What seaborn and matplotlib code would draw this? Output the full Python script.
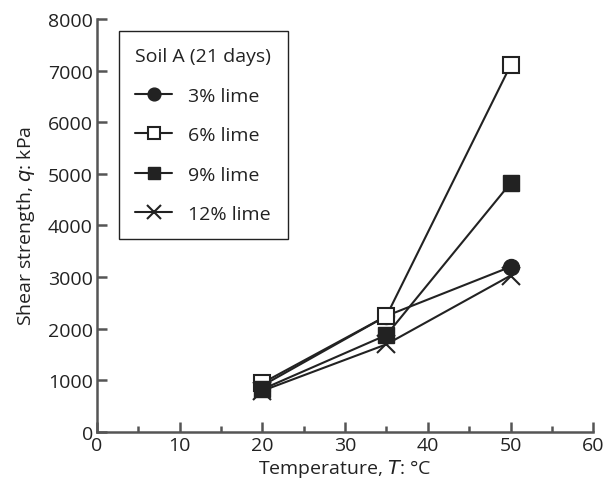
import matplotlib
matplotlib.use("Agg")
import matplotlib.pyplot as plt
import seaborn as sns
import pandas as pd
from matplotlib.ticker import MultipleLocator

temperature = [20, 35, 50]
lime_3 = [900, 2250, 3200]
lime_6 = [950, 2250, 7100]
lime_9 = [830, 1880, 4820]
lime_12 = [800, 1700, 3030]
series_labels = ["3% lime", "6% lime", "9% lime", "12% lime"]
legend_title = "Soil A (21 days)"

sns.set_theme(style="ticks")
plt.rcParams["font.family"] = ["Open Sans", "DejaVu Sans"]

ink = "#222222"
axis_col = "#555555"
fs = 14

fig = plt.figure(figsize=(6.06, 4.85), dpi=100)
ax = fig.add_axes([0.160, 0.107, 0.819, 0.852])

styles = [
    dict(marker="o", markersize=11.5, markerfacecolor=ink, markeredgecolor=ink),
    dict(marker="s", markersize=11.5, markerfacecolor="white", markeredgecolor=ink, markeredgewidth=1.5),
    dict(marker="s", markersize=11.5, markerfacecolor=ink, markeredgecolor=ink),
    dict(marker="x", markersize=13, markerfacecolor=ink, markeredgecolor=ink, markeredgewidth=1.5),
]
data = [lime_3, lime_6, lime_9, lime_12]
handles = []
for vals, lab, st in zip(data, series_labels, styles):
    df = pd.DataFrame({"T": temperature, "q": vals})
    n_before = len(ax.lines)
    sns.lineplot(data=df, x="T", y="q", ax=ax, color=ink, linewidth=1.5, label=lab)
    line = ax.lines[n_before]
    line.set_marker(st["marker"])
    line.set_markersize(st["markersize"])
    line.set_markerfacecolor(st["markerfacecolor"])
    line.set_markeredgecolor(st["markeredgecolor"])
    line.set_markeredgewidth(st.get("markeredgewidth", 1.0))
    handles.append(line)

ax.set_xlim(0, 60)
ax.set_ylim(0, 8000)
ax.xaxis.set_major_locator(MultipleLocator(10))
ax.xaxis.set_minor_locator(MultipleLocator(5))
ax.yaxis.set_major_locator(MultipleLocator(1000))

for s in ["top", "right"]:
    ax.spines[s].set_visible(False)
for s in ["left", "bottom"]:
    ax.spines[s].set_color(axis_col)
    ax.spines[s].set_linewidth(1.8)

ax.tick_params(axis="both", which="major", direction="in", length=7, width=1.8,
               color=axis_col, labelsize=fs, labelcolor=ink, pad=3)
ax.tick_params(axis="x", which="minor", direction="in", length=4, width=1.8, color=axis_col)

ax.set_xlabel("Temperature, $\\it{T}$: °C", fontsize=fs, color=ink, labelpad=2)
ax.set_ylabel("Shear strength, $\\it{q}$: kPa", fontsize=fs, color=ink, labelpad=8)

leg = ax.legend(handles=handles, labels=series_labels, title=legend_title,
                loc="upper left", bbox_to_anchor=(0.044, 0.971),
                frameon=True, fancybox=False, edgecolor=ink, framealpha=1,
                fontsize=fs, title_fontsize=fs, handlelength=1.9, markerscale=0.8,
                labelspacing=1.1, borderpad=0.85, handletextpad=0.8, borderaxespad=0)
leg._legend_box.align = "left"
leg.get_frame().set_linewidth(1.0)
for t in leg.get_texts():
    t.set_color(ink)
leg.get_title().set_color(ink)

fig.savefig("out.png", dpi=100)
